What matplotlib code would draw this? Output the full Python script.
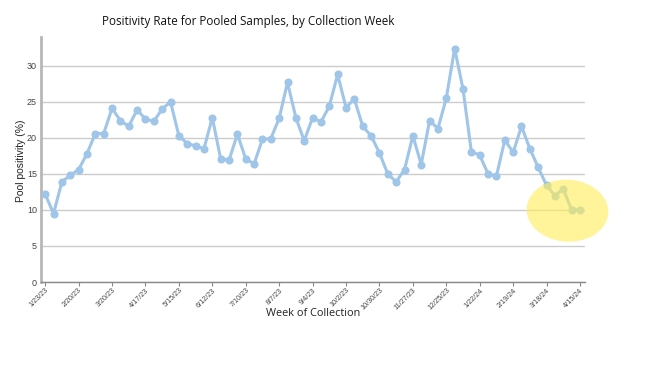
import numpy as np
import matplotlib
matplotlib.use("Agg")
import matplotlib.pyplot as plt
from matplotlib.patches import Ellipse

# weekly pooled-sample positivity, 1/23/23 .. 4/15/24 (65 weeks)
positivity = [12.2, 9.5, 13.9, 14.8, 15.6, 17.8, 20.6, 20.6, 24.1, 22.4,
              21.6, 23.9, 22.6, 22.3, 24.0, 25.0, 20.3, 19.2, 18.9, 18.5,
              22.8, 17.1, 16.9, 20.5, 17.1, 16.4, 19.8, 19.9, 22.7, 27.7,
              22.8, 19.6, 22.8, 22.2, 24.4, 28.8, 24.2, 25.4, 21.6, 20.3,
              17.9, 15.0, 13.9, 15.6, 20.3, 16.3, 22.4, 21.3, 25.5, 32.4,
              26.8, 18.1, 17.6, 15.0, 14.7, 19.7, 18.0, 21.6, 18.5, 15.9,
              13.4, 12.0, 12.9, 10.0, 10.0]
tick_labels = ["1/23/23", "2/20/23", "3/20/23", "4/17/23", "5/15/23", "6/12/23",
               "7/10/23", "8/7/23", "9/4/23", "10/2/23", "10/30/23", "11/27/23",
               "12/25/23", "1/22/24", "2/19/24", "3/18/24", "4/15/24"]
y_ticks = [0, 5, 10, 15, 20, 25, 30]

LINE = "#9fc5e8"
weeks = np.arange(len(positivity))

fig = plt.figure(figsize=(6.5, 3.68), dpi=100)
ax = fig.add_axes([41 / 650, 1 - 282 / 368, 544 / 650, 245 / 368])

ax.plot(weeks, positivity, color=LINE, lw=2.2, marker="o", ms=4.8,
        solid_capstyle="round", zorder=3)

# pale yellow highlighter blob over the last few weeks
ax.add_patch(Ellipse((62.5, 9.9), 9.8, 8.6, angle=-8, color="#ffee55",
                     alpha=0.6, lw=0, clip_on=False, zorder=4))

ax.set_xlim(-0.5, 64.6)
ax.set_ylim(0, 34)
ax.set_yticks(y_ticks)
ax.set_yticklabels([str(v) for v in y_ticks], fontsize=6.5, color="#444444",
                   family="Liberation Sans")
ax.set_xticks(weeks[::4])
ax.set_xticklabels(tick_labels, rotation=45, ha="right", rotation_mode="anchor",
                   fontsize=5.2, color="#444444", family="Liberation Sans")
ax.tick_params(axis="y", length=0, pad=3)
ax.tick_params(axis="x", length=3, width=0.8, color="#888888", pad=0.5)

ax.grid(axis="y", color="#cccccc", lw=1.0)
ax.set_axisbelow(True)
for s in ("top", "right"):
    ax.spines[s].set_visible(False)
ax.spines["left"].set_color("#b8b8b8")
ax.spines["left"].set_linewidth(2.0)
ax.spines["bottom"].set_color("#888888")
ax.spines["bottom"].set_linewidth(1.0)

fig.text(248 / 650, 1 - 22 / 368, "Positivity Rate for Pooled Samples, by Collection Week",
         ha="center", va="center", fontsize=8.4, family="Open Sans", color="#111111")
fig.text(313 / 650, 1 - 314 / 368, "Week of Collection", ha="center", va="center",
         fontsize=7.8, family="Open Sans", color="#222222")
fig.text(21 / 650, 1 - 161 / 368, "Pool positivity (%)", ha="center", va="center",
         rotation=90, fontsize=7.5, family="Liberation Sans", color="#222222")

fig.savefig("out.png", dpi=100)
